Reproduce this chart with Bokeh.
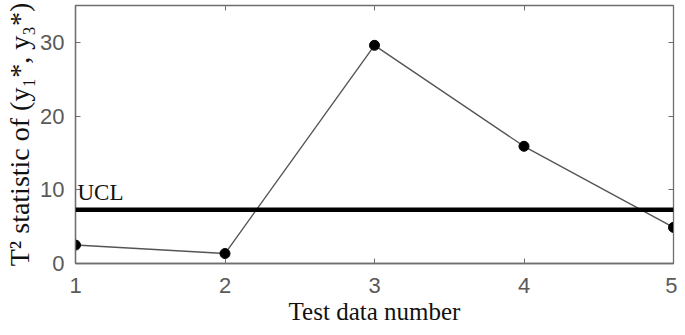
from bokeh.plotting import figure
from bokeh.models import LinearAxis, FixedTicker, Range1d, Label, Span
from bokeh.embed import file_html
from bokeh.resources import INLINE

test_numbers = [1, 2, 3, 4, 5]
t2_values = [2.5, 1.35, 29.6, 15.9, 4.9]
ucl_value = 7.3
x_ticks = [1, 2, 3, 4, 5]
y_ticks = [0, 10, 20, 30]
x_title = "Test data number"
y_title = "T\u00b2 statistic of (y\u2081*, y\u2083*)"

AX = "#6e6e6e"
p = figure(width=677, height=327, output_backend="svg", toolbar_location=None,
           x_range=Range1d(1, 5), y_range=Range1d(0, 35),
           min_border_left=75, min_border_right=4, min_border_top=5, min_border_bottom=63,
           x_axis_label=x_title, y_axis_label=y_title)
p.grid.visible = False
p.outline_line_color = AX
p.outline_line_width = 1.3
p.background_fill_color = "white"
p.border_fill_color = "white"

for ax in (p.xaxis[0], p.yaxis[0]):
    ax.axis_line_color = AX
    ax.axis_line_width = 1.3
    ax.major_tick_line_color = AX
    ax.major_tick_in = 5
    ax.major_tick_out = 0
    ax.minor_tick_line_color = None
    ax.major_label_text_font = "Liberation Sans"
    ax.major_label_text_font_size = "22px"
    ax.major_label_text_color = "#5a5a5a"
    ax.axis_label_text_font = "Liberation Serif"
    ax.axis_label_text_font_style = "normal"
    ax.axis_label_text_color = "#111111"
p.xaxis[0].ticker = FixedTicker(ticks=x_ticks)
p.yaxis[0].ticker = FixedTicker(ticks=y_ticks)
p.xaxis[0].major_label_standoff = 14
p.yaxis[0].major_label_standoff = 11
p.xaxis[0].axis_label_text_font_size = "25px"
p.yaxis[0].axis_label_text_font_size = "28px"
p.xaxis[0].axis_label_standoff = 2
p.yaxis[0].axis_label_standoff = 2

top = LinearAxis(ticker=FixedTicker(ticks=x_ticks), axis_line_color=AX, major_tick_line_color=AX,
                 major_tick_in=5, major_tick_out=0, minor_tick_line_color=None,
                 major_label_overrides={t: "" for t in x_ticks},
                 major_label_text_font_size="1px", major_label_standoff=0)
right = LinearAxis(ticker=FixedTicker(ticks=y_ticks), axis_line_color=AX, major_tick_line_color=AX,
                   major_tick_in=5, major_tick_out=0, minor_tick_line_color=None,
                   major_label_overrides={t: "" for t in y_ticks},
                   major_label_text_font_size="1px", major_label_standoff=0)
p.add_layout(top, "above")
p.add_layout(right, "right")

p.add_layout(Span(location=ucl_value, dimension="width", line_color="black", line_width=4.5))
p.line(test_numbers, t2_values, line_color="#555555", line_width=1.4)
p.scatter(test_numbers, t2_values, size=10, fill_color="black", line_color="black")
p.add_layout(Label(x=1, y=ucl_value, text="UCL", x_offset=2, y_offset=5,
                   text_font="Liberation Serif", text_font_size="23px", text_color="#111111"))

open("out.html", "w").write(file_html(p, INLINE))
